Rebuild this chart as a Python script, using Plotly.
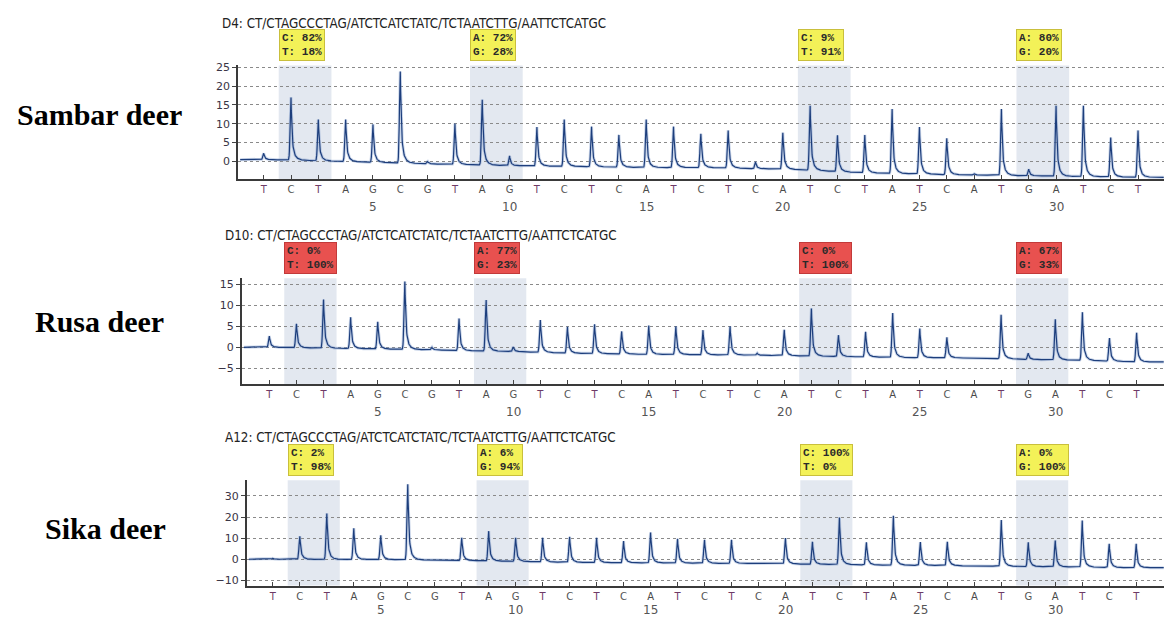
import numpy as np
import plotly.graph_objects as go

# ---------------- data ----------------
dispensation = list("TCTAGCGTAGTCTCATCTCATCTATCATGATCT")
positions = list(range(1, len(dispensation) + 1))
position_numbers = [5, 10, 15, 20, 25, 30]

species = ["Sambar deer", "Rusa deer", "Sika deer"]
sample_ids = ["D4", "D10", "A12"]
sequence = "CT/CTAGCCCTAG/ATCTCATCTATC/TCTAATCTTG/AATTCTCATGC"

# peak tops (signal units) per dispensation
peaks_sambar = [2.1, 17.0, 11.1, 11.1, 9.8, 23.9, -0.1, 10.0, 16.4, 1.4, 9.1, 11.1, 9.2, 7.0, 11.1, 9.2,
                7.3, 8.2, -0.2, 7.6, 14.8, 6.9, 7.0, 13.9, 9.1, 6.1, -3.3, 13.9, -2.1, 14.8, 14.8, 6.3, 8.2]
baseline_sambar = [0.4, 0.3, 0.1, -0.1, -0.3, -0.5, -0.7, -0.9, -1.0, -1.2, -1.3, -1.4, -1.5, -1.6, -1.7, -1.7,
                   -1.7, -1.8, -2.0, -2.1, -2.4, -2.8, -3.1, -3.3, -3.4, -3.6, -3.7, -3.8, -3.9, -4.0, -4.1, -4.2, -4.3]

peaks_rusa = [2.7, 5.6, 11.4, 7.2, 6.1, 15.7, 0.0, 6.9, 11.3, 0.1, 6.5, 4.9, 5.5, 3.8, 5.2, 5.0,
              4.1, 5.0, -1.4, 4.2, 9.3, 2.9, 3.7, 8.2, 4.5, 2.4, -2.6, 7.8, -1.4, 6.7, 8.4, 2.2, 3.5]
baseline_rusa = [0.0, -0.1, -0.2, -0.3, -0.4, -0.5, -0.6, -0.8, -0.9, -1.0, -1.2, -1.4, -1.5, -1.6, -1.7, -1.7,
                 -1.8, -1.8, -1.9, -2.0, -2.1, -2.2, -2.3, -2.4, -2.5, -2.5, -2.6, -2.7, -2.9, -3.0, -3.1, -3.3, -3.5]

peaks_sika = [0.4, 10.9, 21.7, 14.7, 11.3, 35.5, -0.4, 10.2, 13.3, 10.2, 10.2, 10.6, 10.2, 8.6, 12.7, 9.7,
              9.2, 9.2, -2.0, 10.0, 8.3, 19.8, 8.0, 20.6, 8.1, 8.3, -3.2, 18.6, 8.0, 8.9, 18.3, 7.3, 7.3]
baseline_sika = [0.0, 0.0, -0.1, -0.1, -0.2, -0.2, -0.4, -0.6, -0.8, -1.0, -1.3, -1.5, -1.6, -1.7, -1.7, -1.8,
                 -1.9, -2.0, -2.0, -2.2, -2.4, -2.5, -2.7, -2.8, -2.9, -3.0, -3.2, -3.3, -3.5, -3.6, -3.7, -3.9, -4.0]

snp_positions = [(2, 3), (9, 10), (21, 22), (29, 30)]
snp_alleles = [("C", "T"), ("A", "G"), ("C", "T"), ("A", "G")]
pct_sambar = [(82, 18), (72, 28), (9, 91), (80, 20)]
pct_rusa = [(0, 100), (77, 23), (0, 100), (67, 33)]
pct_sika = [(2, 98), (6, 94), (100, 0), (0, 100)]

yticks_sambar = [0, 5, 10, 15, 20, 25]
yticks_rusa = [-5, 0, 5, 10, 15]
yticks_sika = [-10, 0, 10, 20, 30]

# ---------------- style / geometry ----------------
W, H = 1164, 618
def fx(px):
    return px / W
def fy(py):
    return 1 - py / H

YELLOW = ("#f3f158", "#c9bf3c")
RED = ("#e8514f", "#c23a3a")
panels = [
    dict(peaks=peaks_sambar, base=baseline_sambar, pct=pct_sambar, yticks=yticks_sambar,
         yrange=[-4.83, 25.53], xrange=[0.06, 33.95], xdom=(238, W), ydom=(62, 177),
         title=(220, 19.5), label=(99, 111.5), box=YELLOW, num_shift=-28),
    dict(peaks=peaks_rusa, base=baseline_rusa, pct=pct_rusa, yticks=yticks_rusa,
         yrange=[-8.83, 16.49], xrange=[-0.02, 34.01], xdom=(241.7, W), ydom=(277, 384),
         title=(223, 234), label=(99, 320.5), box=RED, num_shift=-28),
    dict(peaks=peaks_sika, base=baseline_sika, pct=pct_sika, yticks=yticks_sika,
         yrange=[-12.47, 37.36], xrange=[0.03, 34.03], xdom=(246.7, W), ydom=(481, 587.3),
         title=(223, 438), label=(105, 529.5), box=YELLOW, num_shift=-24),
]

letter_colors = {"T": "#6e3a66", "C": "#555555", "A": "#4a4a4a", "G": "#555555"}
ticktext = [f"<span style='color:{letter_colors[l]}'>{l}</span>" for l in dispensation]


def pyrogram(x, tops, base):
    b = np.interp(x, positions, base)
    y = b.copy()
    for p, top, bb in zip(positions, tops, base):
        amp = top - bb
        if amp <= 0:
            continue
        d = x - p
        dr = np.clip(d, 0, None)
        right = 0.72 * np.exp(-dr / 0.035) + 0.28 * np.exp(-dr / 0.11)
        left = np.exp(-0.5 * (np.clip(d, None, 0) / 0.03) ** 2)
        y += amp * np.where(d < 0, left, right)
    return y


fig = go.Figure()
layout = dict(width=W, height=H, margin=dict(l=0, r=0, t=0, b=0),
              paper_bgcolor="white", plot_bgcolor="white", showlegend=False)
shapes, annotations = [], []

for i, pn in enumerate(panels):
    k = "" if i == 0 else str(i + 1)
    xa, ya = "x" + k, "y" + k
    x = np.arange(pn["xrange"][0] + 0.08, pn["xrange"][1], 0.01)
    y = pyrogram(x, pn["peaks"], pn["base"])
    fig.add_trace(go.Scatter(x=x, y=y, mode="lines", xaxis=xa, yaxis=ya, hoverinfo="skip",
                             line=dict(color="rgba(120,150,200,0.4)", width=3)))
    fig.add_trace(go.Scatter(x=x, y=y, mode="lines", xaxis=xa, yaxis=ya, hoverinfo="skip",
                             line=dict(color="#1d3e7c", width=1.2)))

    layout["xaxis" + k] = dict(domain=[fx(pn["xdom"][0]), fx(pn["xdom"][1])], range=pn["xrange"],
                               anchor=ya, tickvals=positions, ticktext=ticktext, showgrid=False,
                               zeroline=False, showline=True, linecolor="#3a3a3a", linewidth=2,
                               ticks="inside", ticklen=4, tickcolor="#444", tickwidth=1,
                               tickfont=dict(family="DejaVu Sans", size=10), fixedrange=True)
    layout["yaxis" + k] = dict(domain=[fy(pn["ydom"][1]), fy(pn["ydom"][0])], range=pn["yrange"],
                               anchor=xa, tickvals=pn["yticks"], showgrid=True, gridcolor="#8a8a8a",
                               griddash="dot", gridwidth=1, zeroline=False, showline=True,
                               linecolor="#3a3a3a", linewidth=1.5, ticks="outside", ticklen=4,
                               tickcolor="#444", tickfont=dict(family="DejaVu Sans", size=11, color="#3a3545"),
                               fixedrange=True)

    # shaded SNP regions and result boxes
    for (p1, p2), (a1, a2), (v1, v2) in zip(snp_positions, snp_alleles, pn["pct"]):
        x0, x1 = p1 - 0.45, p2 + 0.48
        shapes.append(dict(type="rect", xref=xa, yref=ya + " domain", x0=x0, x1=x1, y0=0, y1=1,
                           fillcolor="#e3e8f0", line=dict(width=0), layer="below"))
        annotations.append(dict(xref=xa, yref=ya + " domain", x=x0, y=1, xanchor="left", yanchor="bottom",
                                yshift=4, showarrow=False, align="left",
                                text=f"<b>{a1}: {v1}%<br>{a2}: {v2}%</b>",
                                font=dict(family="Liberation Mono", size=11, color="#2a2a2a"),
                                bgcolor=pn["box"][0], bordercolor=pn["box"][1], borderwidth=1, borderpad=2))
    # position numbers
    for n in position_numbers:
        annotations.append(dict(xref=xa, yref=ya + " domain", x=n, y=0, yshift=pn["num_shift"], showarrow=False,
                                text=str(n), font=dict(family="DejaVu Sans", size=12, color="#555555"),
                                xanchor="center", yanchor="middle"))
    # run title
    annotations.append(dict(xref="paper", yref="paper", x=fx(pn["title"][0]), y=fy(pn["title"][1]),
                            xanchor="left", yanchor="middle", showarrow=False,
                            text=f"{sample_ids[i]}: {sequence}",
                            font=dict(family="Liberation Sans Narrow, Arial Narrow, DejaVu Sans Condensed, Liberation Sans",
                                      size=13.3, color="#222222")))
    # species label
    annotations.append(dict(xref="paper", yref="paper", x=fx(pn["label"][0]), y=fy(pn["label"][1]),
                            xanchor="center", yanchor="middle", showarrow=False,
                            text=f"<b>{species[i]}</b>",
                            font=dict(family="Liberation Serif", size=30, color="black")))

layout["shapes"] = shapes
layout["annotations"] = annotations
fig.update_layout(**layout)
fig.write_html("out.html", config={"displayModeBar": False},
               post_script="document.body.style.margin='0px';document.body.style.overflow='hidden';")
